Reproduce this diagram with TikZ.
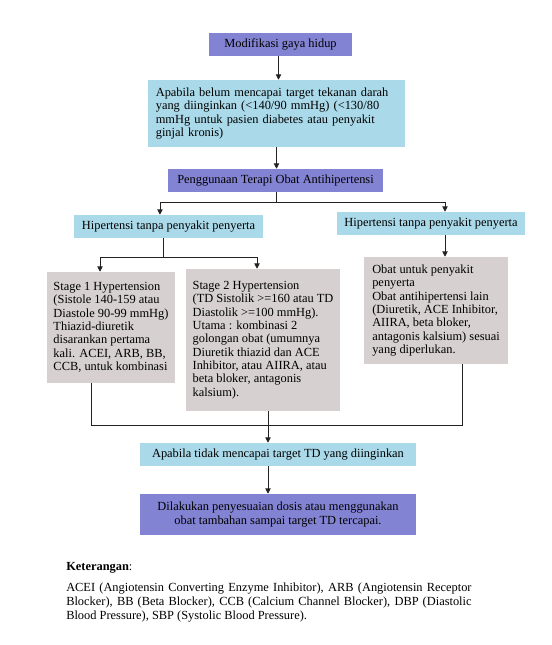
\documentclass[tikz,border=0pt]{standalone}
\usepackage{fontspec}
\setmainfont{Liberation Serif}
\usepackage{xcolor}
\usepackage{tikz}
\usetikzlibrary{arrows.meta,calc}
\definecolor{ungu}{HTML}{8383D4}
\definecolor{biru}{HTML}{AADAEA}
\definecolor{abu}{HTML}{D6D0D0}
\definecolor{garis}{HTML}{222222}
\tikzset{
  box/.style={inner sep=0pt, align=left, text=black, font=\fontsize{9.3}{10}\selectfont},
  boxu/.style={box, fill=ungu, align=center},
  boxb/.style={box, fill=biru},
  boxa/.style={box, fill=abu},
  line/.style={draw=garis, line width=0.6pt},
  arr/.style={line, -{Triangle[length=4pt,width=4pt]}},
  ket/.style={inner sep=0pt, align=left, font=\fontsize{9.3}{10.5}\selectfont},
}

\begin{document}
\begin{tikzpicture}[x=0.75pt,y=-0.75pt]
  \useasboundingbox (0,0) rectangle (551,645);
  % alur utama
  \node[boxu,minimum width=107.25pt,minimum height=17.25pt] (mod) at (280.5,44.5) {Modifikasi gaya hidup};
  \node[boxb,text width=181pt,inner xsep=6pt,minimum height=50.25pt] (apa) at (276.5,113.5)
    {Apabila belum mencapai target tekanan darah\\yang diinginkan (<140/90 mmHg) (<130/80\\mmHg untuk pasien diabetes atau penyakit\\ginjal kronis)};
  \node[boxu,minimum width=161.25pt,minimum height=17.25pt] (terapi) at (275.5,180.5) {Penggunaan Terapi Obat Antihipertensi};
  \node[boxb,minimum width=141.75pt,minimum height=17.25pt] (hipL) at (168.5,226.5) {Hipertensi tanpa penyakit penyerta};
  \node[boxb,minimum width=141pt,minimum height=17.25pt] (hipR) at (431,223.5) {Hipertensi tanpa penyakit penyerta};
  % kotak terapi
  \node[boxa,minimum width=96pt,minimum height=83.25pt] (st1) at (111,327.5)
    {Stage 1 Hypertension\\(Sistole 140-159 atau\\Diastole 90-99 mmHg)\\Thiazid-diuretik\\disarankan pertama\\kali. ACEI, ARB, BB,\\CCB, untuk kombinasi};
  \node[boxa,minimum width=115.5pt,minimum height=106.5pt] (st2) at (263,340)
    {Stage 2 Hypertension\\(TD Sistolik >=160 atau TD\\Diastolik >=100 mmHg).\\Utama : kombinasi 2\\golongan obat (umumnya\\Diuretik thiazid dan ACE\\Inhibitor, atau AIIRA, atau\\beta bloker, antagonis\\kalsium).};
  \node[boxa,minimum width=108pt,minimum height=80.25pt] (obat) at (436,310.5)
    {Obat untuk penyakit\\penyerta\\Obat antihipertensi lain\\(Diuretik, ACE Inhibitor,\\AIIRA, beta bloker,\\antagonis kalsium) sesuai\\yang diperlukan.};
  \node[boxb,minimum width=207pt,minimum height=17.25pt] (tidak) at (278,454.5) {Apabila tidak mencapai target TD yang diinginkan};
  \node[boxu,minimum width=207pt,minimum height=30.75pt] (akhir) at (278,514.5)
    {Dilakukan penyesuaian dosis atau menggunakan\\obat tambahan sampai target TD tercapai.};
  % penghubung
  \draw[arr] ([xshift=-1.5pt]mod.south) -- ([xshift=-1.5pt]mod.south |- apa.north);
  \draw[arr] (apa.south) -- (apa.south |- terapi.north);
  \draw[line] ([xshift=1pt]terapi.south) -- ++(0,10) coordinate (j1);
  \draw[arr] (j1) -| ([xshift=-6.4pt]hipL.north);
  \draw[arr] (j1) -| ([xshift=10.5pt]hipR.north);
  \draw[line] ([xshift=-4.1pt]hipL.south) -- ++(0,19) coordinate (j2);
  \draw[arr] (j2) -| ([xshift=-8.25pt]st1.north);
  \draw[arr] (j2) -| ([xshift=-4.5pt]st2.north);
  \draw[arr] ([xshift=10.5pt]hipR.south) -- ([xshift=10.5pt]hipR.south |- obat.north);
  \coordinate (j3) at (462,425);
  \draw[line] ([xshift=-15pt]st1.south) |- (j3) -- ([xshift=19.5pt]obat.south);
  \draw[arr] ([xshift=3.75pt]st2.south) -- ([xshift=3.75pt]st2.south |- tidak.north);
  \draw[arr] ([xshift=-7.5pt]tidak.south) -- ([xshift=-7.5pt]akhir.north);
  % keterangan
  \node[ket,anchor=base west] (judul) at (66,570) {\textbf{Keterangan}:};
  \node[ket,anchor=north west] (isi) at (66,583)
    {\makebox[304pt][s]{ACEI (Angiotensin Converting Enzyme Inhibitor), ARB (Angiotensin Receptor}\\
     \makebox[304pt][s]{Blocker), BB (Beta Blocker), CCB (Calcium Channel Blocker), DBP (Diastolic}\\
     Blood Pressure), SBP (Systolic Blood Pressure).};
\end{tikzpicture}
\end{document}
